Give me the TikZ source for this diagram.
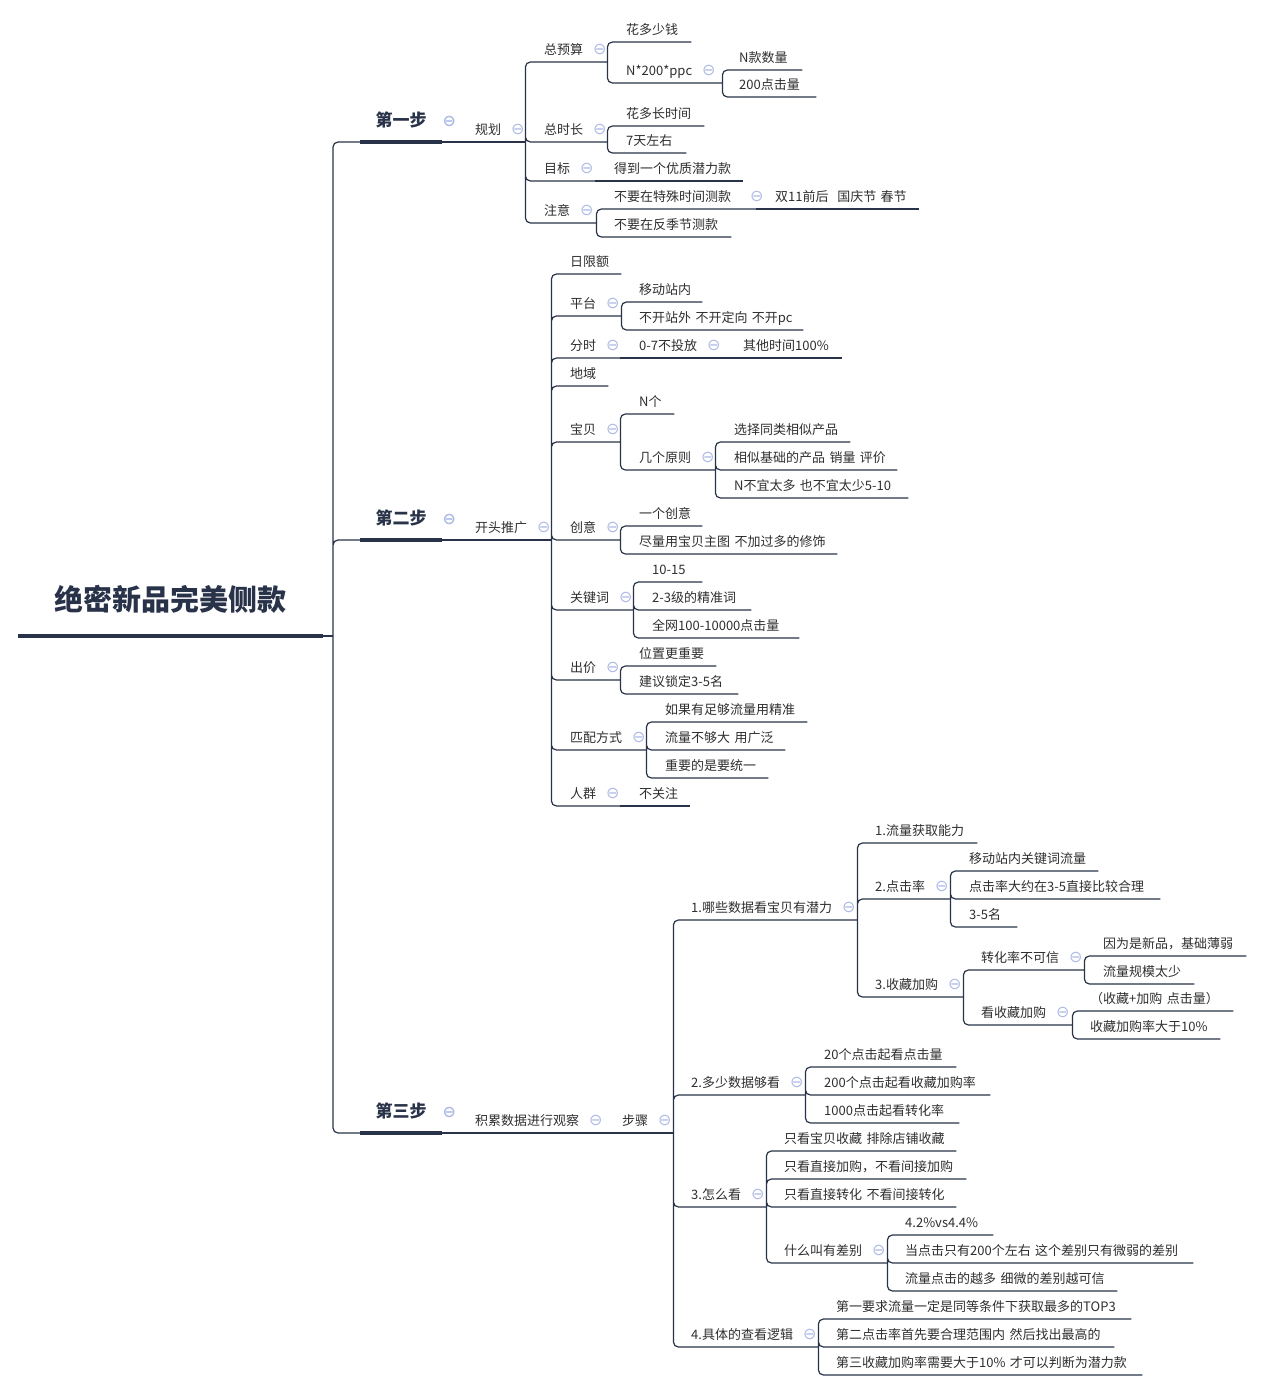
\documentclass[tikz,border=0pt]{standalone}
\usepackage{fontspec}
\setmainfont{Noto Sans CJK SC}
\newfontfamily\foldfont{DejaVu Sans}
\usepackage{xcolor}
\usepackage{tikz}
\usetikzlibrary{positioning}

\definecolor{navy}{HTML}{283248}
\definecolor{ink}{HTML}{2E2E2E}
\definecolor{foldc}{HTML}{AEBAE6}

% collapse mark after a topic
\newcommand\foldmark[1][10pt]{\rlap{\hspace{#1}{\foldfont\fontsize{16}{16}\selectfont\color{foldc}⊖}}}

\begin{document}
\begin{tikzpicture}[
  x=1pt, y=-1pt,
  topic/.style={anchor=south west, inner xsep=0pt, inner ysep=4pt, text height=10pt, text depth=3pt,
    text width=#1pt, align=left, text=ink, font=\fontsize{13}{16}\selectfont},
  stage/.style={anchor=south west, inner xsep=0pt, inner ysep=11.5pt, text height=13pt, text depth=4pt,
    text width=82pt, align=center, text=navy, font=\fontsize{17}{20}\selectfont\bfseries},
  title/.style={anchor=south west, inner xsep=0pt, inner ysep=19pt, text height=24pt, text depth=6pt,
    text width=305pt, align=center, text=navy, font=\fontsize{29}{34}\selectfont\bfseries},
  link/.style={draw=navy, line width=1.2pt, rounded corners=5pt},
  heavy/.style={draw=navy, line width=#1},
]
\useasboundingbox (0,0) rectangle (1260,1391);

\node[title] (root) at (18,636) {绝密新品完美侧款};
\coordinate (trunk) at (333,636);

\node[stage] (s1) at (360,142) {第一步\foldmark[16pt]};
\node[stage] (s2) at (360,540) {第二步\foldmark[16pt]};
\node[stage] (s3) at (360,1133) {第三步\foldmark[16pt]};

% step one
\node[topic=50] (plan) at (475,142) {规划\foldmark};
\node[topic=63] (budget) at (544,62) {总预算\foldmark};
\node[topic=65] (money) at (626,42) {花多少钱};
\node[topic=96] (formula) at (626,83) {N*200*ppc\foldmark};
\node[topic=63] (qty) at (739,70) {N款数量};
\node[topic=77] (clicks) at (739,97) {200点击量};
\node[topic=63] (dur) at (544,142) {总时长\foldmark};
\node[topic=78] (dur1) at (626,126) {花多长时间};
\node[topic=60] (dur2) at (626,153) {7天左右};
\node[topic=51] (goal) at (544,181) {目标\foldmark};
\node[topic=129] (goal1) at (614,181) {得到一个优质潜力款};
\node[topic=52] (note) at (544,223) {注意\foldmark};
\node[topic=142] (note1) at (614,209) {不要在特殊时间测款\foldmark[19pt]};
\node[topic=144] (note1v) at (775,209) {双11前后~ 国庆节 春节};
\node[topic=117] (note2) at (614,237) {不要在反季节测款};

% step two
\node[topic=76] (push) at (475,540) {开头推广\foldmark};
\node[topic=51] (daily) at (570,274) {日限额};
\node[topic=51] (plat) at (570,316) {平台\foldmark};
\node[topic=63] (plat1) at (639,302) {移动站内};
\node[topic=164] (plat2) at (639,330) {不开站外 不开定向 不开pc};
\node[topic=50] (hour) at (570,358) {分时\foldmark};
\node[topic=85] (hour1) at (639,358) {0-7不投放\foldmark};
\node[topic=99] (hour2) at (743,358) {其他时间100\%};
\node[topic=38] (region) at (570,386) {地域};
\node[topic=50] (item) at (570,442) {宝贝\foldmark};
\node[topic=35] (itemn) at (639,414) {N个};
\node[topic=76] (rule) at (639,470) {几个原则\foldmark};
\node[topic=116] (rule1) at (734,442) {选择同类相似产品};
\node[topic=163] (rule2) at (734,470) {相似基础的产品 销量 评价};
\node[topic=174] (rule3) at (734,498) {N不宜太多 也不宜太少5-10};
\node[topic=50] (idea) at (570,540) {创意\foldmark};
\node[topic=63] (idea1) at (639,526) {一个创意};
\node[topic=198] (idea2) at (639,554) {尽量用宝贝主图 不加过多的修饰};
\node[topic=63] (kw) at (570,610) {关键词\foldmark};
\node[topic=50] (kw1) at (652,582) {10-15};
\node[topic=99] (kw2) at (652,610) {2-3级的精准词};
\node[topic=147] (kw3) at (652,638) {全网100-10000点击量};
\node[topic=50] (bid) at (570,680) {出价\foldmark};
\node[topic=77] (bid1) at (639,666) {位置更重要};
\node[topic=99] (bid2) at (639,694) {建议锁定3-5名};
\node[topic=76] (match) at (570,750) {匹配方式\foldmark};
\node[topic=142] (match1) at (665,722) {如果有足够流量用精准};
\node[topic=120] (match2) at (665,750) {流量不够大 用广泛};
\node[topic=103] (match3) at (665,778) {重要的是要统一};
\node[topic=50] (crowd) at (570,806) {人群\foldmark};
\node[topic=51] (crowd1) at (639,806) {不关注};

% step three
\node[topic=128] (obs) at (475,1133) {积累数据进行观察\foldmark};
\node[topic=51] (steps) at (622,1133) {步骤\foldmark};
\node[topic=166] (q1) at (691,920) {1.哪些数据看宝贝有潜力\foldmark};
\node[topic=102] (q1a) at (875,843) {1.流量获取能力};
\node[topic=75] (q1b) at (875,899) {2.点击率\foldmark};
\node[topic=129] (q1b1) at (969,871) {移动站内关键词流量};
\node[topic=191] (q1b2) at (969,899) {点击率大约在3-5直接比较合理};
\node[topic=48] (q1b3) at (969,927) {3-5名};
\node[topic=88] (q1c) at (875,997) {3.收藏加购\foldmark};
\node[topic=103] (q1c1) at (981,970) {转化率不可信\foldmark};
\node[topic=143] (q1c11) at (1103,956) {因为是新品，基础薄弱};
\node[topic=91] (q1c12) at (1103,984) {流量规模太少};
\node[topic=91] (q1c2) at (981,1025) {看收藏加购\foldmark};
\node[topic=143] (q1c21) at (1090,1011) {（收藏+加购 点击量）};
\node[topic=130] (q1c22) at (1090,1039) {收藏加购率大于10\%};
\node[topic=114] (q2) at (691,1095) {2.多少数据够看\foldmark};
\node[topic=132] (q2a) at (824,1067) {20个点击起看点击量};
\node[topic=166] (q2b) at (824,1095) {200个点击起看收藏加购率};
\node[topic=135] (q2c) at (824,1123) {1000点击起看转化率};
\node[topic=75] (q3) at (691,1207) {3.怎么看\foldmark};
\node[topic=172] (q3a) at (784,1151) {只看宝贝收藏 排除店铺收藏};
\node[topic=182] (q3b) at (784,1179) {只看直接加购，不看间接加购};
\node[topic=172] (q3c) at (784,1207) {只看直接转化 不看间接转化};
\node[topic=103] (q3d) at (784,1263) {什么叫有差别\foldmark};
\node[topic=88] (q3d1) at (905,1235) {4.2\%vs4.4\%};
\node[topic=288] (q3d2) at (905,1263) {当点击只有200个左右 这个差别只有微弱的差别};
\node[topic=212] (q3d3) at (905,1291) {流量点击的越多 细微的差别越可信};
\node[topic=127] (q4) at (691,1347) {4.具体的查看逻辑\foldmark};
\node[topic=295] (q4a) at (836,1319) {第一要求流量一定是同等条件下获取最多的TOP3};
\node[topic=278] (q4b) at (836,1347) {第二点击率首先要合理范围内 然后找出最高的};
\node[topic=306] (q4c) at (836,1375) {第三收藏加购率需要大于10\% 才可以判断为潜力款};

% branches
\draw[link] (root.south east) -- (trunk);
\draw[link] (trunk) |- (s1.south east) (trunk) |- (s2.south east) (trunk) |- (s3.south east);

\draw[link] (s1.south east) -- (plan.south east);
\draw[link] (plan.south east) |- (budget.south east) (plan.south east) |- (dur.south east)
  (plan.south east) |- (goal.south east) (plan.south east) |- (note.south east);
\draw[link] (budget.south east) |- (money.south east) (budget.south east) |- (formula.south east);
\draw[link] (formula.south east) |- (qty.south east) (formula.south east) |- (clicks.south east);
\draw[link] (dur.south east) |- (dur1.south east) (dur.south east) |- (dur2.south east);
\draw[link] (goal.south east) -- (goal1.south east);
\draw[link] (note.south east) |- (note1.south east) (note.south east) |- (note2.south east);
\draw[link] (note1.south east) -- (note1v.south east);

\draw[link] (s2.south east) -- (push.south east);
\draw[link] (push.south east) |- (daily.south east) (push.south east) |- (plat.south east)
  (push.south east) |- (hour.south east) (push.south east) |- (region.south east)
  (push.south east) |- (item.south east) (push.south east) |- (idea.south east)
  (push.south east) |- (kw.south east) (push.south east) |- (bid.south east)
  (push.south east) |- (match.south east) (push.south east) |- (crowd.south east);
\draw[link] (plat.south east) |- (plat1.south east) (plat.south east) |- (plat2.south east);
\draw[link] (hour.south east) -- (hour1.south east) -- (hour2.south east);
\draw[link] (item.south east) |- (itemn.south east) (item.south east) |- (rule.south east);
\draw[link] (rule.south east) |- (rule1.south east) (rule.south east) |- (rule2.south east)
  (rule.south east) |- (rule3.south east);
\draw[link] (idea.south east) |- (idea1.south east) (idea.south east) |- (idea2.south east);
\draw[link] (kw.south east) |- (kw1.south east) (kw.south east) |- (kw2.south east)
  (kw.south east) |- (kw3.south east);
\draw[link] (bid.south east) |- (bid1.south east) (bid.south east) |- (bid2.south east);
\draw[link] (match.south east) |- (match1.south east) (match.south east) |- (match2.south east)
  (match.south east) |- (match3.south east);
\draw[link] (crowd.south east) -- (crowd1.south east);

\draw[link] (s3.south east) -- (obs.south east) -- (steps.south east);
\draw[link] (steps.south east) |- (q1.south east) (steps.south east) |- (q2.south east)
  (steps.south east) |- (q3.south east) (steps.south east) |- (q4.south east);
\draw[link] (q1.south east) |- (q1a.south east) (q1.south east) |- (q1b.south east)
  (q1.south east) |- (q1c.south east);
\draw[link] (q1b.south east) |- (q1b1.south east) (q1b.south east) |- (q1b2.south east)
  (q1b.south east) |- (q1b3.south east);
\draw[link] (q1c.south east) |- (q1c1.south east) (q1c.south east) |- (q1c2.south east);
\draw[link] (q1c1.south east) |- (q1c11.south east) (q1c1.south east) |- (q1c12.south east);
\draw[link] (q1c2.south east) |- (q1c21.south east) (q1c2.south east) |- (q1c22.south east);
\draw[link] (q2.south east) |- (q2a.south east) (q2.south east) |- (q2b.south east)
  (q2.south east) |- (q2c.south east);
\draw[link] (q3.south east) |- (q3a.south east) (q3.south east) |- (q3b.south east)
  (q3.south east) |- (q3c.south east) (q3.south east) |- (q3d.south east);
\draw[link] (q3d.south east) |- (q3d1.south east) (q3d.south east) |- (q3d2.south east)
  (q3d.south east) |- (q3d3.south east);
\draw[link] (q4.south east) |- (q4a.south east) (q4.south east) |- (q4b.south east)
  (q4.south east) |- (q4c.south east);

% heavy underlines
\draw[heavy=4.2pt] (root.south west) -- (root.south east);
\draw[heavy=3.8pt] (s1.south west) -- (s1.south east);
\draw[heavy=3.8pt] (s2.south west) -- (s2.south east);
\draw[heavy=3.8pt] (s3.south west) -- (s3.south east);

\end{tikzpicture}
\end{document}
